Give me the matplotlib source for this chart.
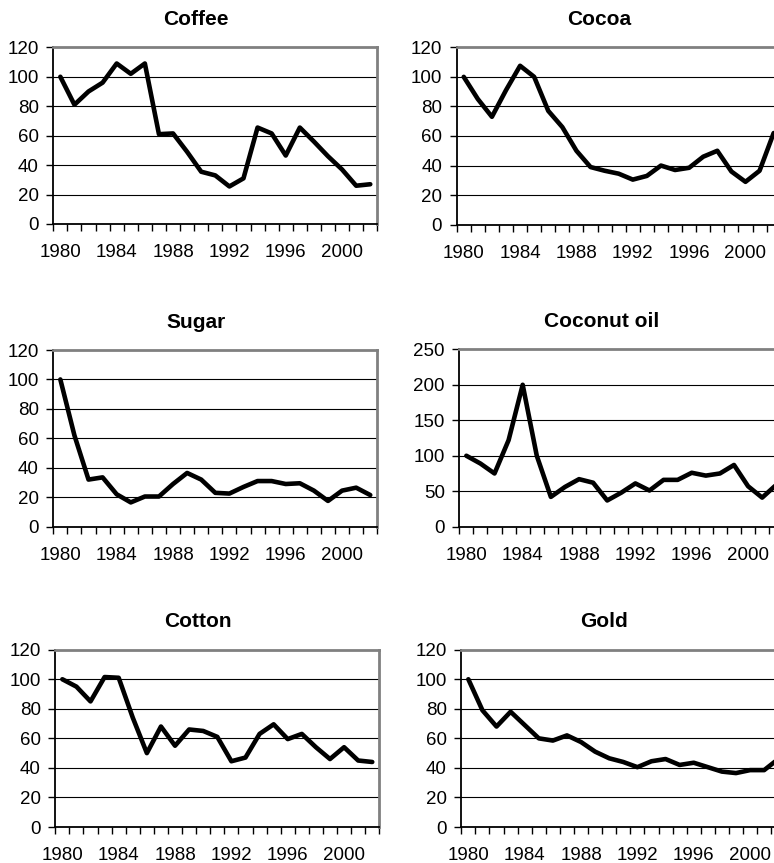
import numpy as np
import matplotlib
matplotlib.use('Agg')
import matplotlib.pyplot as plt

plt.rcParams['font.family'] = ['Liberation Sans', 'DejaVu Sans']

years = list(range(1980, 2003))
coffee = [100, 81, 90, 96, 109, 102, 109, 61, 61.5, 49, 35.5, 33, 25.5, 31,
          65.5, 61.5, 46.5, 65.5, 56, 46, 37, 26, 27]
cocoa = [100, 85, 73, 91, 107.5, 100, 77, 66, 50, 39, 36.5, 34.5, 30.5, 33,
         40, 37, 38.5, 46, 50, 36, 29, 36.5, 62]
sugar = [100, 62, 32, 33.5, 22, 16.5, 20.5, 20.5, 29, 36.5, 32, 23, 22.5, 27,
         31, 31, 29, 29.5, 24.5, 17.5, 24.5, 26.5, 21.5]
coconut = [100, 89, 75, 122, 200, 100, 42, 56, 67, 62, 37, 48, 61, 51,
           66, 66, 76, 72, 75, 87, 57, 41, 59]
cotton = [100, 95, 85, 101.5, 101, 74, 50, 68, 55, 66, 65, 61, 44.5, 47,
          63, 69.5, 59.5, 63, 54, 46, 54, 45, 44]
gold = [100, 79, 68, 78, 69, 60, 58.5, 62, 57.5, 51, 46.5, 44, 40.5, 44.5,
        46, 42, 43.5, 40.5, 37.5, 36.5, 38.5, 38.5, 46]

W, H = 774, 863
fig = plt.figure(figsize=(W / 100, H / 100), dpi=100)

# (title, values, ymax, step, left px, top px, bottom px)
panels = [
    ('Coffee', coffee, 120, 20, 53.3, 47.3, 224.0),
    ('Cocoa', cocoa, 120, 20, 456.7, 47.3, 224.7),
    ('Sugar', sugar, 120, 20, 53.3, 350.0, 526.7),
    ('Coconut oil', coconut, 250, 50, 459.3, 349.3, 526.7),
    ('Cotton', cotton, 120, 20, 55.3, 649.7, 827.0),
    ('Gold', gold, 120, 20, 461.3, 649.7, 827.0),
]

n = len(years)
x = np.arange(n)

for title, vals, ymax, step, left, top, bottom in panels:
    ax = fig.add_axes([left / W, 1 - bottom / H, 324 / W, (bottom - top) / H])
    ax.plot(x, vals, color='black', lw=3.3, solid_joinstyle='round',
            solid_capstyle='round', zorder=3)
    ax.set_xlim(-0.5, n - 0.5)
    ax.set_ylim(0, ymax)
    ax.set_yticks(np.arange(0, ymax + 1, step))
    for v in np.arange(step, ymax, step):
        ax.axhline(v, color='black', lw=0.8, zorder=1)
    ax.set_xticks(x[::4])
    ax.set_xticklabels([str(y) for y in years[::4]])
    ax.set_xticks(np.arange(-0.5, n, 1), minor=True)
    ax.tick_params(axis='x', which='major', length=0, pad=14.5, labelsize=13.5)
    ax.tick_params(axis='x', which='minor', length=5, width=1, direction='out')
    ax.tick_params(axis='y', length=5, width=1, direction='out', pad=5.5,
                   labelsize=13.5)
    for s in ('left', 'bottom'):
        ax.spines[s].set_color('black')
        ax.spines[s].set_linewidth(1.3)
    for s in ('top', 'right'):
        ax.spines[s].set_color('#808080')
        ax.spines[s].set_linewidth(2.0)
    ax.text(0.44, 1.158, title, transform=ax.transAxes, ha='center',
            va='center', fontsize=15, fontweight='bold')

fig.savefig('out.png', dpi=100)
